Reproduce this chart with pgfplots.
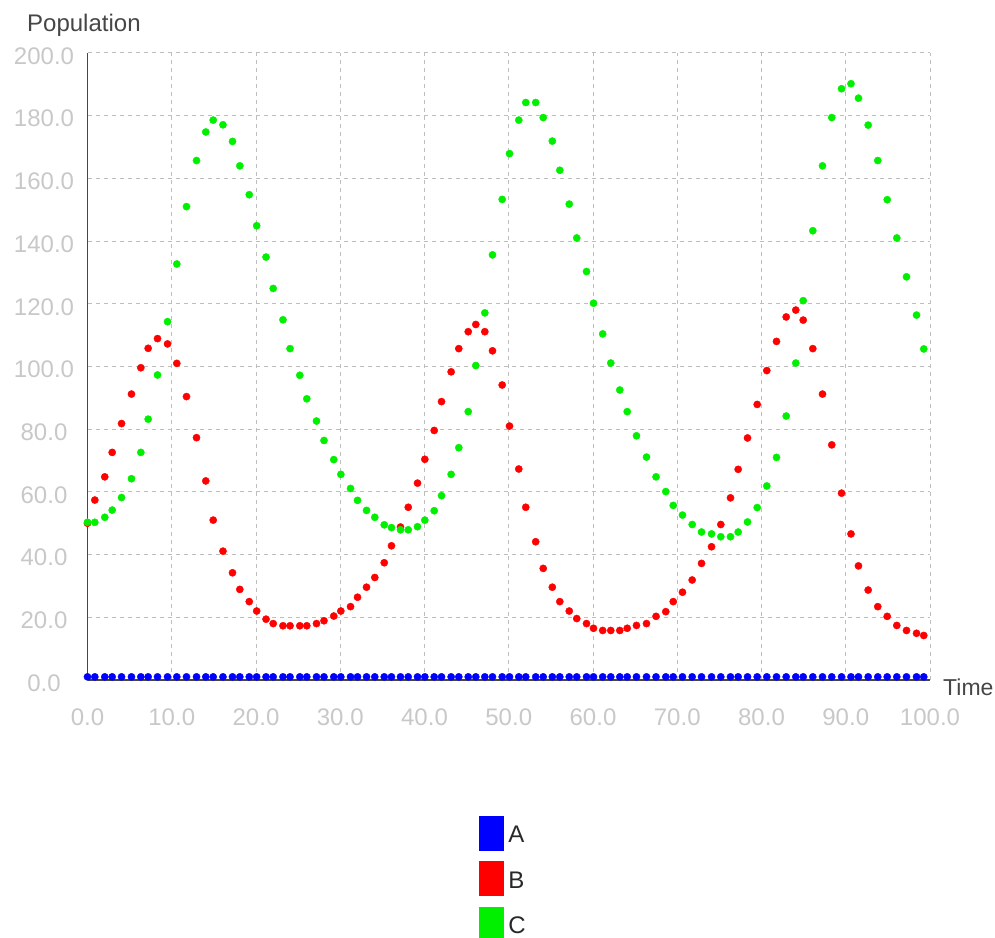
\documentclass[border=0pt]{standalone}
\usepackage{fontspec}
\setmainfont{Liberation Sans}
\usepackage{pgfplots}
\usepackage{pgfplotstable}
\pgfplotsset{compat=1.18}
\definecolor{tickc}{RGB}{200,200,200}
\definecolor{gridc}{RGB}{190,190,190}
\definecolor{axc}{RGB}{70,70,70}
\definecolor{labc}{RGB}{70,70,70}
\definecolor{legc}{RGB}{40,40,40}
\definecolor{cA}{RGB}{0,0,255}
\definecolor{cB}{RGB}{255,0,0}
\definecolor{cC}{RGB}{0,240,0}
\pgfplotstableread{
t A B C
0 1 50.0 50.3
0.87 1 57.4 50.3
2.05 1 64.8 51.9
2.93 1 72.6 54.2
4.04 1 81.8 58.2
5.22 1 91.2 64.2
6.33 1 99.6 72.6
7.20 1 105.8 83.2
8.31 1 108.9 97.3
9.50 1 107.2 114.3
10.60 1 101.0 132.7
11.75 1 90.4 151.0
12.94 1 77.3 165.7
14.04 1 63.5 174.8
14.92 1 51.0 178.6
16.08 1 41.1 177.1
17.21 1 34.2 171.8
18.08 1 28.9 164.0
19.20 1 25.0 154.8
20.08 1 22.0 144.9
21.19 1 19.4 134.9
22.04 1 18.0 124.9
23.20 1 17.3 114.9
24.04 1 17.3 105.7
25.20 1 17.3 97.2
26.03 1 17.3 89.7
27.18 1 18.0 82.6
28.07 1 18.9 76.4
29.23 1 20.4 70.3
30.07 1 22.0 65.6
31.22 1 23.4 61.1
32.05 1 26.4 57.3
33.12 1 29.6 54.1
34.10 1 32.7 51.9
35.22 1 37.4 49.5
36.08 1 42.8 48.6
37.15 1 48.8 47.9
38.07 1 55.1 47.9
39.17 1 62.8 48.9
40.04 1 70.4 51.0
41.15 1 79.6 54.0
42.02 1 88.8 58.8
43.16 1 98.3 65.6
44.07 1 105.7 74.1
45.19 1 111.1 85.6
46.09 1 113.4 100.3
47.16 1 111.1 117.1
48.07 1 105.0 135.6
49.22 1 94.1 153.3
50.09 1 81.0 167.9
51.19 1 67.3 178.6
52.02 1 55.1 184.2
53.20 1 44.1 184.2
54.09 1 35.6 179.4
55.17 1 29.6 171.9
56.06 1 25.0 162.6
57.18 1 22.0 151.8
58.07 1 19.6 141.0
59.23 1 18.0 130.3
60.06 1 16.5 120.2
61.15 1 15.8 110.4
62.11 1 15.8 101.1
63.18 1 15.8 92.5
64.06 1 16.5 85.6
65.16 1 17.4 77.9
66.35 1 18.0 71.1
67.48 1 20.3 64.8
68.64 1 21.8 60.1
69.52 1 25.0 55.7
70.62 1 28.0 52.6
71.77 1 31.9 49.6
72.88 1 37.2 47.2
74.07 1 42.5 46.6
75.17 1 49.6 45.7
76.32 1 58.1 45.7
77.23 1 67.2 47.2
78.34 1 77.2 50.4
79.49 1 87.9 55.0
80.63 1 98.7 61.9
81.78 1 108.0 71.0
82.93 1 115.8 84.2
84.07 1 118.0 101.1
84.95 1 114.8 121.0
86.09 1 105.7 143.3
87.24 1 91.2 164.0
88.34 1 75.0 179.4
89.50 1 59.6 188.6
90.62 1 46.6 190.2
91.51 1 36.4 185.6
92.66 1 28.7 177.0
93.80 1 23.4 165.7
94.92 1 20.3 153.2
96.06 1 17.4 141.0
97.21 1 15.8 128.6
98.40 1 14.9 116.4
99.26 1 14.2 105.6
}\datatable
\begin{document}
\begin{tikzpicture}
\useasboundingbox (0bp,0bp) rectangle (995bp,938bp);
\begin{axis}[
  at={(87.5bp,258bp)}, anchor=south west,
  width=842.5bp, height=627bp, scale only axis,
  xmin=0, xmax=100, ymin=0, ymax=200,
  xtick={0,10,...,100}, ytick={0,20,...,200},
  grid=major,
  major grid style={dash pattern=on 4bp off 4bp, color=gridc, line width=1bp},
  axis x line*=bottom, axis y line*=left,
  axis line style={-, color=axc, line width=1.8bp},
  major tick length=0pt,
  tick label style={font=\fontsize{24bp}{28bp}\selectfont, text=tickc},
  xticklabel={\pgfmathprintnumber[fixed,fixed zerofill,precision=1,assume math mode=true]{\tick}},
  yticklabel={\pgfmathprintnumber[fixed,fixed zerofill,precision=1,assume math mode=true]{\tick}},
  xticklabel style={anchor=center, yshift=-37bp},
  yticklabel style={anchor=center, xshift=-43.5bp, yshift=-3bp},
  legend cell align=left,
  legend style={at={(axis description cs:0.4647,-0.2169)}, anchor=north west,
    draw=none, fill=none, inner sep=0pt, outer sep=0pt,
    row sep=11bp, column sep=5bp,
    font=\fontsize{24bp}{28bp}\selectfont, text=legc,
    nodes={inner sep=0pt}},
  clip=false,
]
\addplot[only marks, mark=*, mark size=3.6bp, color=cA,
  legend image code/.code={\fill[cA] (0bp,-15bp) rectangle (24bp,19bp);}]
  table[x=t,y=A]{\datatable};
\addplot[only marks, mark=*, mark size=3.6bp, color=cB,
  legend image code/.code={\fill[cB] (0bp,-15bp) rectangle (24bp,19bp);}]
  table[x=t,y=B]{\datatable};
\addplot[only marks, mark=*, mark size=3.6bp, color=cC,
  legend image code/.code={\fill[cC] (0bp,-15bp) rectangle (24bp,19bp);}]
  table[x=t,y=C]{\datatable};
\legend{A,B,C}
\end{axis}
\node[anchor=base west, inner sep=0pt, text=labc, font=\fontsize{24bp}{28bp}\selectfont] at (27bp,906bp) {Population};
\node[anchor=base west, inner sep=0pt, text=labc, font=\fontsize{23bp}{27bp}\selectfont] at (943bp,242bp) {Time};
\end{tikzpicture}
\end{document}
